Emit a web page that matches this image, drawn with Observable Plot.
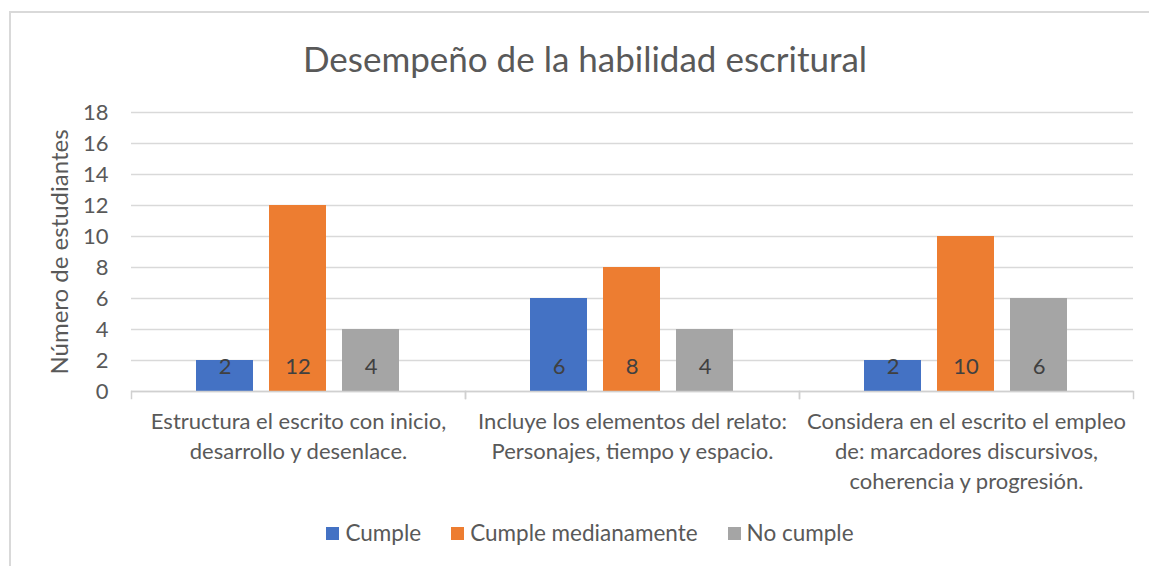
<!DOCTYPE html>
<html>
<head>
<meta charset="utf-8">
<script src="https://cdn.jsdelivr.net/npm/d3@7"></script>
<script src="https://cdn.jsdelivr.net/npm/@observablehq/plot@0.6"></script>
<style>
  html, body { margin: 0; padding: 0; background: #fff; }
  #wrap { position: relative; width: 1149px; height: 566px; overflow: hidden; font-family: Lato, "Open Sans", sans-serif; color: #595959; }
  #border { position: absolute; left: 9px; top: 11px; width: 1200px; height: 600px; border-left: 2px solid #d9d9d9; border-top: 2px solid #d9d9d9; }
  #chart { position: absolute; left: 0; top: 0; }
  #title { position: absolute; left: 0; width: 1170px; top: 36px; text-align: center; font-size: 35px; line-height: 44px; color: #595959; }
  #legend { position: absolute; left: 0; width: 1180px; top: 519px; display: flex; justify-content: center; align-items: center; font-size: 22.5px; line-height: 28px; color: #595959; }
  .item { display: flex; align-items: center; margin: 0 15px; }
  .sw { width: 13px; height: 13px; margin-right: 6px; }
</style>
</head>
<body>
<div id="wrap">
  <div id="border"></div>
  <div id="chart"></div>
  <div id="title"></div>
  <div id="legend"></div>
</div>
<script>
const title = "Desempeño de la habilidad escritural";
const yLabel = "Número de estudiantes";
const categories = [
  "Estructura el escrito con inicio, desarrollo y desenlace.",
  "Incluye los elementos del relato: Personajes, tiempo y espacio.",
  "Considera en el escrito el empleo de: marcadores discursivos, coherencia y progresión."
];
const categoryLabels = [
  "Estructura el escrito con inicio,\ndesarrollo y desenlace.",
  "Incluye los elementos del relato:\nPersonajes, tiempo y espacio.",
  "Considera en el escrito el empleo\nde: marcadores discursivos,\ncoherencia y progresión."
];
const series = ["Cumple", "Cumple medianamente", "No cumple"];
const colors = ["#4472C4", "#ED7D31", "#A5A5A5"];
const cumple = [2, 6, 2];
const cumpleMedianamente = [12, 8, 10];
const noCumple = [4, 4, 6];
const yTicks = [0, 2, 4, 6, 8, 10, 12, 14, 16, 18];

const seriesValues = [cumple, cumpleMedianamente, noCumple];
const data = [];
categories.forEach((c, i) => {
  series.forEach((s, j) => data.push({category: c, series: s, value: seriesValues[j][i]}));
});
const labelOf = new Map(categories.map((c, i) => [c, categoryLabels[i]]));

const font = "Lato, 'Open Sans', sans-serif";
const chart = Plot.plot({
  width: 1149,
  height: 566,
  marginTop: 112,
  marginBottom: 175,
  marginLeft: 131,
  marginRight: 16,
  style: {fontFamily: font, background: "transparent", overflow: "visible"},
  fx: {domain: categories, padding: 0},
  x: {domain: series, paddingInner: 0.216, paddingOuter: 0.865, axis: null},
  y: {domain: [0, 18]},
  color: {domain: series, range: colors},
  marks: [
    Plot.gridY(yTicks, {stroke: "#d9d9d9", strokeOpacity: 1, strokeWidth: 1.5}),
    Plot.axisY(yTicks, {
      tickSize: 0, tickPadding: 23, fontSize: 22, fill: "#595959",
      label: null
    }),
    Plot.axisY({
      ticks: [], tickSize: 0, fontSize: 24, fill: "#595959",
      label: yLabel, labelAnchor: "center", labelArrow: "none", labelOffset: 81
    }),
    Plot.barY(data, {fx: "category", x: "series", y: "value", fill: "series"}),
    Plot.text(data, {fx: "category", x: "series", text: "value", frameAnchor: "bottom", dy: -25, fontSize: 22, fill: "#404040", lineAnchor: "middle"}),
    Plot.ruleY([0], {stroke: "#d0d0d0", strokeWidth: 1.5}),
    Plot.frame({anchor: "left", stroke: "#d0d0d0", strokeWidth: 1.5, insetTop: 279, insetBottom: -7}),
    Plot.frame({anchor: "right", stroke: "#d0d0d0", strokeWidth: 1.5, insetTop: 279, insetBottom: -7}),
    Plot.axisFx({
      anchor: "bottom", tickSize: 0, tickPadding: 16, fontSize: 22, fill: "#595959",
      lineHeight: 1.36, tickFormat: (d) => labelOf.get(d), label: null
    })
  ]
});
document.getElementById("chart").appendChild(chart);
document.getElementById("title").textContent = title;
const legend = document.getElementById("legend");
series.forEach((s, i) => {
  const item = document.createElement("div");
  item.className = "item";
  const sw = document.createElement("div");
  sw.className = "sw";
  sw.style.background = colors[i];
  const t = document.createElement("span");
  t.textContent = s;
  item.appendChild(sw);
  item.appendChild(t);
  legend.appendChild(item);
});
</script>
</body>
</html>
